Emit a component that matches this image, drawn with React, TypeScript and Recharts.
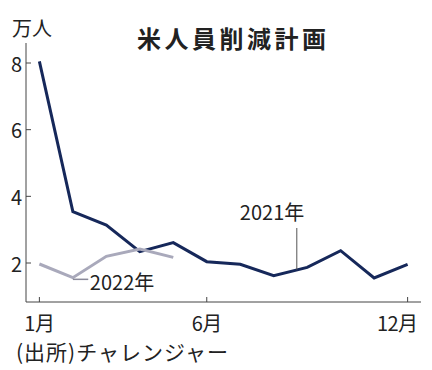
import { LineChart, Line, XAxis, YAxis, ReferenceLine, ReferenceDot } from 'recharts'

// 米人員削減計画 (万人), source: Challenger
const months = [1, 2, 3, 4, 5, 6, 7, 8, 9, 10, 11, 12]
const cuts2021 = [8.05, 3.54, 3.14, 2.34, 2.61, 2.04, 1.96, 1.62, 1.87, 2.37, 1.55, 1.96]
const cuts2022 = [1.97, 1.56, 2.2, 2.42, 2.17]
const yTicks = [2, 4, 6, 8]
const xTicks = [1, 6, 12]
const xTickLabels = ['1月', '6月', '12月']

const data = months.map((m, i) => ({ month: m, y2021: cuts2021[i], y2022: cuts2022[i] }))

const NAVY = '#16285a'
const GRAY = '#a9a9bb'
const INK = '#222'
const FONT = '"Noto Sans CJK JP", "Noto Sans", sans-serif'

// tick mark points inward, label sits outside
function YTick({ x, y, payload }: any) {
  return (
    <g>
      <line x1={x} x2={x + 5} y1={y} y2={y} stroke="#444" />
      <text x={x - 4} y={y} textAnchor="end" dominantBaseline="central" fontSize={20} fill={INK}>
        {payload.value}
      </text>
    </g>
  )
}

function XTick({ x, y, payload }: any) {
  const idx = xTicks.indexOf(payload.value)
  const isLast = idx === xTicks.length - 1
  return (
    <g>
      <line x1={x} x2={x} y1={y} y2={y - 5} stroke="#444" />
      <text
        x={isLast ? x + 10 : x}
        y={y + 20}
        textAnchor={isLast ? 'end' : 'middle'}
        dominantBaseline="central"
        fontSize={20}
        letterSpacing={-0.5}
        fill={INK}
      >
        {xTickLabels[idx]}
      </text>
    </g>
  )
}

export default function App() {
  return (
    <div
      style={{
        position: 'absolute',
        left: 0,
        top: 0,
        width: 432,
        height: 370,
        background: '#fff',
        fontFamily: FONT,
        color: INK,
      }}
    >
      <div
        style={{
          position: 'absolute',
          left: 137,
          top: 26,
          fontSize: 24,
          lineHeight: '24px',
          fontWeight: 700,
          letterSpacing: 3.5,
          whiteSpace: 'nowrap',
        }}
      >
        米人員削減計画
      </div>
      <div style={{ position: 'absolute', left: 12, top: 18, fontSize: 20, lineHeight: '20px' }}>万人</div>
      <div
        style={{
          position: 'absolute',
          left: 16,
          top: 341,
          fontSize: 21,
          lineHeight: '21px',
          letterSpacing: 1,
          whiteSpace: 'nowrap',
        }}
      >
        (出所)チャレンジャー
      </div>
      <LineChart width={432} height={370} data={data} margin={{ top: 43, right: 11, bottom: 67, left: 25 }}>
        <XAxis
          dataKey="month"
          type="number"
          domain={[0.6, 12.4]}
          ticks={xTicks}
          height={1}
          tickSize={0}
          tickMargin={0}
          tickLine={false}
          axisLine={{ stroke: '#444' }}
          tick={<XTick />}
          interval={0}
        />
        <YAxis
          type="number"
          domain={[0.83, 8.6]}
          ticks={yTicks}
          width={1}
          tickSize={0}
          tickMargin={0}
          tickLine={false}
          axisLine={{ stroke: '#444' }}
          tick={<YTick />}
          interval={0}
        />
        <Line
          dataKey="y2021"
          stroke={NAVY}
          strokeWidth={3}
          dot={false}
          activeDot={false}
          isAnimationActive={false}
          strokeLinejoin="miter"
        />
        <Line
          dataKey="y2022"
          stroke={GRAY}
          strokeWidth={3}
          dot={false}
          activeDot={false}
          isAnimationActive={false}
          strokeLinejoin="miter"
        />
        <ReferenceLine
          segment={[{ x: 8.69, y: 3.05 }, { x: 8.69, y: 1.8 }]}
          stroke="#555"
          strokeWidth={1}
        />
        <ReferenceLine
          segment={[{ x: 2.0, y: 1.51 }, { x: 2.46, y: 1.51 }]}
          stroke="#8a8a9a"
          strokeWidth={1.5}
        />
        <ReferenceDot
          x={7.95}
          y={3.5}
          r={0}
          fill="none"
          stroke="none"
          label={{ value: '2021年', position: 'center', fill: INK, fontSize: 20 }}
        />
        <ReferenceDot
          x={3.47}
          y={1.4}
          r={0}
          fill="none"
          stroke="none"
          label={{ value: '2022年', position: 'center', fill: INK, fontSize: 20 }}
        />
      </LineChart>
    </div>
  )
}
